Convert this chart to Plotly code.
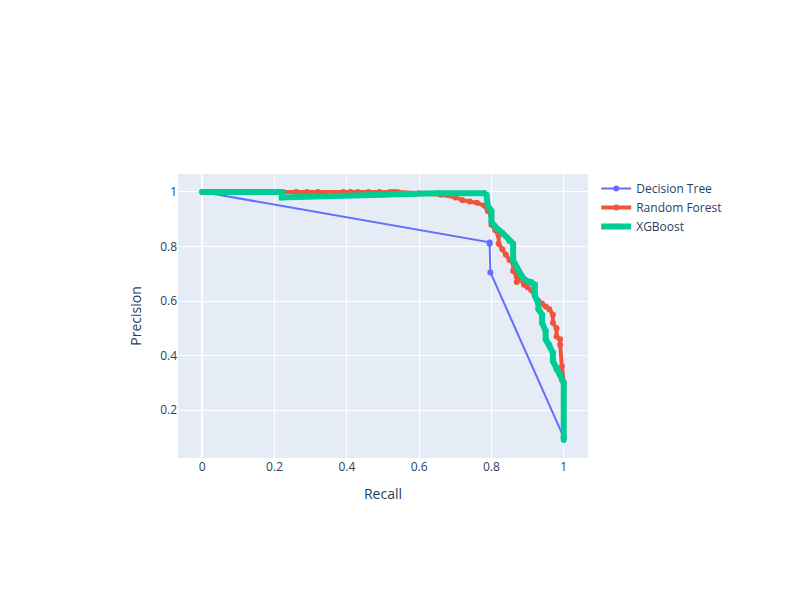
import plotly.graph_objects as go

# Decision Tree precision/recall
dt_recall = [0.0, 0.795, 0.795, 0.797, 1.0]
dt_precision = [1.0, 0.815, 0.81, 0.705, 0.1]

# Random Forest precision/recall
rf_recall = [0.0, 0.21, 0.26, 0.29, 0.32, 0.39, 0.41, 0.43, 0.46, 0.49, 0.52, 0.53, 0.54,
             0.60, 0.66, 0.70, 0.72, 0.74, 0.76, 0.78, 0.79, 0.80, 0.80, 0.81, 0.82, 0.82,
             0.83, 0.84, 0.85, 0.86, 0.86, 0.87, 0.87, 0.88, 0.89, 0.90, 0.91, 0.92, 0.93,
             0.94, 0.95, 0.96, 0.97, 0.97, 0.98, 0.98, 0.99, 0.99, 0.995, 1.0, 1.0]
rf_precision = [1.0, 1.0, 1.0, 1.0, 1.0, 1.0, 1.0, 1.0, 1.0, 1.0, 1.0, 1.0, 1.0,
                0.995, 0.99, 0.98, 0.97, 0.965, 0.96, 0.95, 0.93, 0.91, 0.88, 0.86, 0.84, 0.81,
                0.79, 0.77, 0.75, 0.74, 0.71, 0.69, 0.67, 0.68, 0.66, 0.65, 0.64, 0.62, 0.60,
                0.59, 0.58, 0.57, 0.55, 0.52, 0.50, 0.47, 0.46, 0.44, 0.36, 0.30, 0.10]

# XGBoost precision/recall
xgb_recall = [0.0, 0.1, 0.22, 0.22, 0.35, 0.5, 0.65, 0.78, 0.786, 0.79, 0.80, 0.80, 0.81,
              0.82, 0.83, 0.85, 0.86, 0.86, 0.87, 0.88, 0.89, 0.91, 0.92, 0.92, 0.93, 0.93,
              0.94, 0.94, 0.95, 0.95, 0.96, 0.97, 0.97, 0.98, 0.99, 0.995, 1.0, 1.0]
xgb_precision = [1.0, 1.0, 1.0, 0.98, 0.985, 0.99, 0.995, 0.995, 0.99, 0.95, 0.93, 0.89, 0.87,
                 0.86, 0.85, 0.82, 0.81, 0.75, 0.72, 0.70, 0.68, 0.67, 0.66, 0.62, 0.59, 0.57,
                 0.55, 0.52, 0.49, 0.46, 0.44, 0.41, 0.38, 0.35, 0.33, 0.31, 0.30, 0.09]

fig = go.Figure()
fig.add_trace(go.Scatter(x=dt_recall, y=dt_precision, mode="lines+markers", name="Decision Tree"))
fig.add_trace(go.Scatter(x=rf_recall, y=rf_precision, mode="lines+markers", name="Random Forest",
                         line=dict(width=4)))
fig.add_trace(go.Scatter(x=xgb_recall, y=xgb_precision, mode="lines+markers", name="XGBoost",
                         line=dict(width=6), marker=dict(size=6)))
fig.update_layout(width=800, height=600, xaxis_title="Recall", yaxis_title="Precision",
                  margin=dict(l=170, r=220, t=166, b=150))
fig.write_html("out.html")
